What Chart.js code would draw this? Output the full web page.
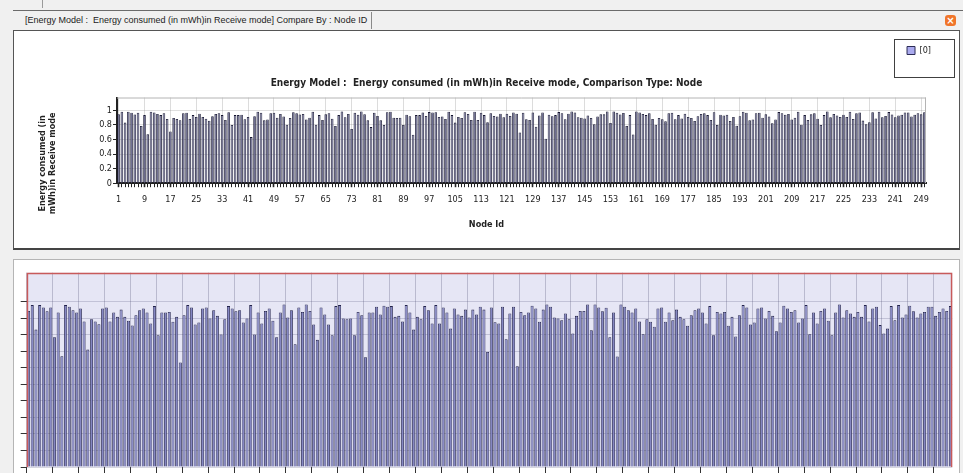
<!DOCTYPE html>
<html>
<head>
<meta charset="utf-8">
<title>Energy consumed in Receive mode by node</title>
<script src="https://cdn.jsdelivr.net/npm/chart.js@4.4.1/dist/chart.umd.min.js"></script>
<style>
  html, body { margin: 0; padding: 0; }
  body {
    width: 963px; height: 473px; overflow: hidden; position: relative;
    background: #f0f0f0;
    font-family: "Liberation Sans", Arial, sans-serif;
  }
  .abs { position: absolute; }
  #tick42 { left: 42px; top: 0; width: 1px; height: 8px; background: #9a9a9a; }
  #tabRule { left: 13px; top: 10px; width: 950px; height: 1px; background: #6b6b6b; }
  #tabLabel { left: 25px; top: 15px; font-size: 9px; line-height: 11px; color: #222; white-space: pre; }
  #tabSep { left: 371px; top: 12px; width: 1px; height: 17px; background: #8a8a8a; }
  #closeBtn {
    left: 945px; top: 15px; width: 11px; height: 11px; border-radius: 3px;
    background: #f0752a; color: #fff; text-align: center;
    font: bold 10px/11px "DejaVu Sans", sans-serif;
  }
  #topPanel { left: 13px; top: 30px; width: 945px; height: 217px; background: #fff;
              border: 1px solid #555; border-bottom: 2px solid #444; }
  #bottomPanel { left: 13px; top: 259px; width: 945px; height: 230px; background: #fff;
                 border: 1px solid #b5b5b5; }
  canvas { position: absolute; }
  #overview { left: 14px; top: 31px; }
  #detail { left: 14px; top: 263px; }
</style>
</head>
<body>
<div class="abs" id="tick42"></div>
<div class="abs" id="tabRule"></div>
<div class="abs" id="tabLabel">[Energy Model :  Energy consumed (in mWh)in Receive mode] Compare By : Node ID</div>
<div class="abs" id="tabSep"></div>
<div class="abs" id="closeBtn">×</div>
<div class="abs" id="topPanel"></div>
<div class="abs" id="bottomPanel"></div>
<canvas id="overview" width="945" height="217"></canvas>
<canvas id="detail" width="945" height="214"></canvas>
<script>
// Node identifiers on the x axis (nodes 1..250)
const nodeIds = Array.from({ length: 250 }, (_, i) => i + 1);

// Energy consumed in Receive mode per node (mWh)
const energyReceive = [
  0.944, 0.979, 0.831, 0.979, 0.965, 0.942, 0.965, 0.785, 0.934, 0.670,
  0.979, 0.969, 0.948, 0.934, 0.959, 0.880, 0.710, 0.894, 0.880, 0.864,
  0.959, 0.965, 0.880, 0.934, 0.908, 0.952, 0.908, 0.884, 0.856, 0.918,
  0.948, 0.959, 0.934, 0.868, 0.973, 0.797, 0.934, 0.934, 0.938, 0.878,
  0.908, 0.632, 0.918, 0.979, 0.965, 0.862, 0.874, 0.959, 0.965, 0.898,
  0.948, 0.914, 0.801, 0.894, 0.973, 0.959, 0.942, 0.948, 0.874, 0.898,
  0.979, 0.801, 0.934, 0.868, 0.944, 0.959, 0.884, 0.785, 0.934, 0.983,
  0.904, 0.948, 0.743, 0.965, 0.938, 0.983, 0.944, 0.862, 0.769, 0.965,
  0.922, 0.862, 0.797, 0.973, 0.979, 0.898, 0.894, 0.898, 0.797, 0.938,
  0.918, 0.664, 0.934, 0.934, 0.969, 0.922, 0.975, 0.969, 0.973, 0.908,
  0.914, 0.880, 0.979, 0.934, 0.831, 0.908, 0.894, 0.973, 0.948, 0.868,
  0.979, 0.868, 0.965, 0.934, 0.837, 0.959, 0.922, 0.914, 0.952, 0.904,
  0.952, 0.922, 0.969, 0.952, 0.696, 0.965, 0.876, 0.868, 0.969, 0.773,
  0.928, 0.969, 0.609, 0.938, 0.918, 0.934, 0.975, 0.959, 0.878, 0.952,
  0.983, 0.969, 0.904, 0.898, 0.888, 0.928, 0.894, 0.807, 0.914, 0.944,
  0.944, 0.983, 0.827, 0.983, 0.965, 0.942, 0.963, 0.785, 0.934, 0.668,
  0.983, 0.969, 0.948, 0.934, 0.959, 0.880, 0.803, 0.894, 0.878, 0.848,
  0.959, 0.965, 0.878, 0.934, 0.888, 0.952, 0.908, 0.894, 0.854, 0.918,
  0.948, 0.959, 0.934, 0.868, 0.973, 0.797, 0.938, 0.928, 0.938, 0.854,
  0.908, 0.789, 0.918, 0.979, 0.965, 0.862, 0.874, 0.959, 0.965, 0.898,
  0.944, 0.914, 0.821, 0.874, 0.975, 0.959, 0.938, 0.948, 0.874, 0.898,
  0.979, 0.803, 0.934, 0.868, 0.944, 0.959, 0.884, 0.797, 0.934, 0.983,
  0.904, 0.948, 0.928, 0.908, 0.938, 0.908, 0.979, 0.880, 0.959, 0.969,
  0.858, 0.807, 0.837, 0.973, 0.888, 0.979, 0.904, 0.922, 0.975, 0.942,
  0.904, 0.928, 0.938, 0.969, 0.969, 0.914, 0.938, 0.959, 0.944, 0.973
];

// Series names shown in the legend
const seriesLabels = ['[0]'];

// Labelled ticks
const xTickLabels = [1, 9, 17, 25, 33, 41, 49, 57, 65, 73, 81, 89, 97, 105, 113, 121,
                     129, 137, 145, 153, 161, 169, 177, 185, 193, 201, 209, 217, 225, 233, 241, 249];
const yTickLabels = [0, 0.2, 0.4, 0.6, 0.8, 1];

const chartTitle = 'Energy Model :  Energy consumed (in mWh)in Receive mode, Comparison Type: Node';
const yAxisTitle = ['Energy consumed (in', 'mWh)in Receive mode'];
const xAxisTitle = 'Node Id';

const uiFont = '"DejaVu Sans Condensed", "DejaVu Sans", sans-serif';
Chart.defaults.font.family = uiFont;
Chart.defaults.color = '#222';
Chart.defaults.animation = false;

const near = (a, b) => Math.abs(a - b) < 1e-6;
const isYLabel = v => yTickLabels.some(t => near(t, v));
const isXLabel = i => xTickLabels.includes(nodeIds[i]);

// Fills the plot area and strokes chosen sides of its frame
const plotFrame = {
  id: 'plotFrame',
  beforeDraw(chart, args, opts) {
    if (!opts.fill) return;
    const { ctx, chartArea: a } = chart;
    ctx.save();
    ctx.fillStyle = opts.fill;
    ctx.fillRect(a.left, a.top, a.width, a.height);
    ctx.restore();
  },
  afterDraw(chart, args, opts) {
    if (!opts.stroke) return;
    const { ctx, chartArea: a } = chart;
    const sides = opts.sides || ['top', 'right', 'bottom', 'left'];
    const w = opts.width || 1;
    const h = w / 2;
    ctx.save();
    ctx.strokeStyle = opts.stroke;
    ctx.lineWidth = w;
    ctx.beginPath();
    if (sides.includes('top')) { ctx.moveTo(a.left, a.top + h); ctx.lineTo(a.right, a.top + h); }
    if (sides.includes('right')) { ctx.moveTo(a.right - h, a.top); ctx.lineTo(a.right - h, a.bottom); }
    if (sides.includes('left')) { ctx.moveTo(a.left + h, a.top); ctx.lineTo(a.left + h, a.bottom); }
    if (sides.includes('bottom')) { ctx.moveTo(a.left, a.bottom - h); ctx.lineTo(a.right, a.bottom - h); }
    ctx.stroke();
    ctx.restore();
  }
};

// Pulls the legend in from the right edge, draws a box round it,
// and lowers the caption-only axis so its title sits lower
const legendFrame = {
  id: 'legendFrame',
  afterLayout(chart, args, opts) {
    const lg = chart.legend;
    if (lg && opts.inset) { lg.left -= opts.inset; lg.right -= opts.inset; }
    const cap = chart.scales.yCaption;
    if (cap && opts.captionDrop) { cap.top += opts.captionDrop; cap.bottom += opts.captionDrop; }
  },
  afterDraw(chart, args, opts) {
    const lg = chart.legend;
    if (!lg || !lg.legendHitBoxes || !lg.legendHitBoxes.length) return;
    const b = lg.legendHitBoxes[0];
    const { ctx } = chart;
    const x = Math.round(b.left - opts.padLeft) + 0.5;
    const y = Math.round(b.top - opts.padTop) + 0.5;
    const w = Math.round(b.width + opts.padLeft + opts.padRight);
    const h = Math.round(b.height + opts.padTop + opts.padBottom);
    ctx.save();
    ctx.strokeStyle = opts.color;
    ctx.lineWidth = 1;
    ctx.strokeRect(x, y, w, h);
    ctx.restore();
  }
};

// Overview chart
new Chart(document.getElementById('overview'), {
  type: 'bar',
  data: {
    labels: nodeIds,
    datasets: [{
      label: seriesLabels[0],
      data: energyReceive,
      backgroundColor: '#6a6a8e',
      borderColor: '#15152f',
      borderWidth: 0.8,
      barPercentage: 0.8,
      categoryPercentage: 1
    }]
  },
  options: {
    responsive: false,
    animation: false,
    layout: { padding: { top: 5, bottom: 12, left: 0, right: 0 } },
    plugins: {
      tooltip: { enabled: false },
      legend: {
        position: 'top',
        align: 'end',
        weight: 3000,
        labels: {
          boxWidth: 8,
          boxHeight: 8,
          padding: 10,
          color: '#222',
          font: { size: 9 },
          generateLabels: chart => Chart.defaults.plugins.legend.labels.generateLabels(chart)
            .map(l => Object.assign(l, { fillStyle: '#aaaaee', strokeStyle: '#2c2c55', lineWidth: 1 }))
        }
      },
      legendFrame: { inset: 18, padLeft: 13, padRight: 23, padTop: 7, padBottom: 22, color: '#404040', captionDrop: 23 },
      title: {
        display: true,
        text: chartTitle,
        color: '#222',
        font: { size: 10, weight: 'bold' },
        padding: { top: 12, bottom: 8.5 }
      },
      subtitle: {
        display: true,
        position: 'bottom',
        text: xAxisTitle,
        color: '#222',
        font: { size: 9, weight: 'bold' },
        padding: { top: 6, bottom: 6 }
      },
      plotFrame: { stroke: '#b4b4b4', sides: ['top', 'right'] }
    },
    scales: {
      x: {
        offset: true,
        grid: {
          offset: false,
          color: c => isXLabel(c.index) ? '#dcdcdc' : 'rgba(0,0,0,0)',
          tickColor: '#222',
          tickWidth: c => isXLabel(c.index) ? 1.6 : 1,
          tickLength: 4
        },
        border: { color: '#222', width: 2 },
        ticks: {
          autoSkip: false,
          maxRotation: 0,
          padding: 7,
          font: { size: 9 },
          callback: (v, i) => isXLabel(i) ? String(nodeIds[i]) : ''
        },
        afterFit: s => { s.height = 30; }
      },
      y: {
        min: 0,
        max: 1.175,
        z: 1,
        weight: 0,
        ticks: {
          stepSize: 0.05,
          padding: 1,
          font: { size: 9 },
          callback: v => isYLabel(v) ? String(+v.toFixed(1)) : ''
        },
        grid: {
          color: c => near(c.tick.value, 1.175) ? 'rgba(0,0,0,0)' : 'rgba(140,140,140,0.28)',
          tickColor: c => isYLabel(c.tick.value) ? '#222' : 'rgba(0,0,0,0)',
          tickLength: 4
        },
        border: { color: '#222', width: 2 },
        afterFit: s => { s.width = 68; }
      },
      yCaption: {
        position: 'left',
        display: true,
        weight: 1,
        grid: { display: false },
        ticks: { display: false },
        border: { display: false },
        title: {
          display: true,
          text: yAxisTitle,
          color: '#222',
          font: { size: 9, weight: 'bold', lineHeight: 1.1 },
          padding: { top: 24, bottom: 0 }
        },
        afterFit: s => { s.width = 35; }
      },
      yEdge: {
        position: 'right',
        display: true,
        grid: { display: false },
        ticks: { display: false },
        border: { display: false },
        afterFit: s => { s.width = 33; }
      }
    }
  },
  plugins: [legendFrame, plotFrame]
});

// Detail chart
new Chart(document.getElementById('detail'), {
  type: 'bar',
  data: {
    labels: nodeIds,
    datasets: [{
      label: seriesLabels[0],
      data: energyReceive,
      backgroundColor: '#8587c3',
      borderColor: '#22224a',
      borderWidth: 0.8,
      barPercentage: 0.82,
      categoryPercentage: 1
    }]
  },
  options: {
    responsive: false,
    animation: false,
    layout: { padding: { top: 9.7, right: 6.7, left: 0, bottom: 0 } },
    plugins: {
      tooltip: { enabled: false },
      legend: { display: false },
      title: { display: false },
      plotFrame: { fill: '#e6e6f5', stroke: '#c85a5a', width: 1.5, sides: ['top', 'right', 'left'] }
    },
    scales: {
      x: {
        offset: true,
        grid: {
          offset: true,
          color: c => c.index % 7 === 0 ? 'rgba(150,150,175,0.55)' : 'rgba(0,0,0,0)',
          tickColor: c => c.index % 7 === 0 ? '#333' : 'rgba(0,0,0,0)',
          tickLength: 7
        },
        ticks: { display: false, autoSkip: false },
        border: { display: false },
        afterFit: s => { s.height = 10; }
      },
      y: {
        min: 0,
        max: 1.175,
        z: 1,
        ticks: { display: false, stepSize: 0.1 },
        grid: {
          color: c => near(c.tick.value, 1.175) ? 'rgba(0,0,0,0)' : 'rgba(70,70,110,0.22)',
          tickColor: c => near(c.tick.value, 1.175) ? 'rgba(0,0,0,0)' : '#333',
          tickLength: 6
        },
        border: { display: false },
        afterFit: s => { s.width = 12.7; }
      }
    }
  },
  plugins: [plotFrame]
});
</script>
</body>
</html>
